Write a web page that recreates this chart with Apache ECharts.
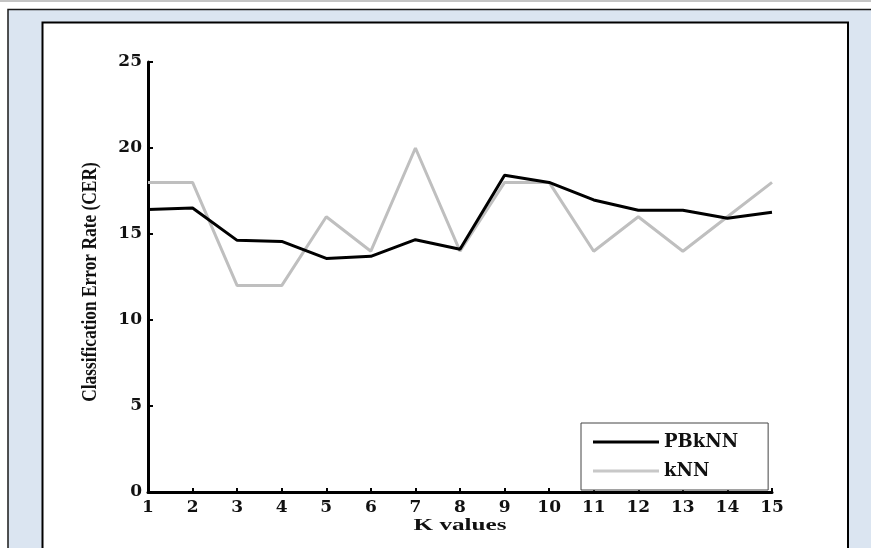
<!DOCTYPE html>
<html>
<head>
<meta charset="utf-8">
<script src="https://cdn.jsdelivr.net/npm/echarts@6/dist/echarts.min.js"></script>
<style>
  html, body { margin: 0; padding: 0; background: #ffffff; }
  #chart { width: 871px; height: 548px; }
</style>
</head>
<body>
<div id="chart"></div>
<script>
// K values on the horizontal axis
const kValues = ['1','2','3','4','5','6','7','8','9','10','11','12','13','14','15'];
// Classification error rate per K
const pbknnCER = [16.43, 16.51, 14.63, 14.57, 13.58, 13.70, 14.67, 14.11, 18.41, 18.0, 16.98, 16.38, 16.38, 15.91, 16.26];
const knnCER   = [18, 18, 12, 12, 16, 14, 20, 14, 18, 18, 14, 16, 14, 16, 18];
// Vertical axis range
const yMin = 0, yMax = 25, yStep = 5;

const tickFont = { fontFamily: '"DejaVu Serif"', fontWeight: 'bold', fontSize: 17, color: '#111' };

const chart = echarts.init(document.getElementById('chart'), null, { renderer: 'canvas' });

chart.setOption({
  animation: false,
  backgroundColor: '#ffffff',
  graphic: [
    // page rule and framed panel
    { type: 'rect', z: -20, silent: true, shape: { x: 0, y: 0, width: 871, height: 2 }, style: { fill: '#c4c4c4' } },
    { type: 'rect', z: -19, silent: true, shape: { x: 8, y: 9.5, width: 900, height: 600 },
      style: { fill: '#dbe5f1', stroke: '#1a1a1a', lineWidth: 1.5 } },
    { type: 'rect', z: -18, silent: true, shape: { x: 42.5, y: 22.5, width: 805.5, height: 600 },
      style: { fill: '#ffffff', stroke: '#000000', lineWidth: 2 } },
    // axis titles
    { type: 'text', z: 10, silent: true, x: 90, y: 282, rotation: Math.PI / 2, scaleX: 0.79,
      style: { text: 'Classification Error Rate (CER)', font: 'bold 22px "Liberation Serif"', fill: '#111',
               align: 'center', verticalAlign: 'middle', textAlign: 'center', textVerticalAlign: 'middle' } },
    { type: 'text', z: 10, silent: true, x: 460, y: 526, scaleX: 1.48,
      style: { text: 'K values', font: 'bold 17px "Liberation Serif"', fill: '#111',
               align: 'center', verticalAlign: 'middle', textAlign: 'center', textVerticalAlign: 'middle' } }
  ],
  grid: { left: 148, right: 99, top: 62, bottom: 56, containLabel: false },
  legend: {
    orient: 'vertical',
    left: 581,
    top: 423,
    icon: 'rect',
    itemWidth: 66,
    itemHeight: 3,
    itemGap: 11,
    padding: [10, 30, 10, 12],
    backgroundColor: '#ffffff',
    borderColor: '#444',
    borderWidth: 1,
    textStyle: { fontFamily: '"DejaVu Serif"', fontWeight: 'bold', fontSize: 18, color: '#111' },
    data: [
      'PBkNN',
      { name: 'kNN', lineStyle: { width: 1.5, type: 'dotted', color: '#c4c4c4' } }
    ]
  },
  xAxis: {
    type: 'category',
    data: kValues,
    boundaryGap: false,
    axisLine: { show: true, lineStyle: { color: '#000', width: 3 } },
    axisTick: { show: true, inside: true, length: 4, alignWithLabel: true, interval: 0, lineStyle: { color: '#000', width: 2 } },
    axisLabel: Object.assign({ margin: 7, interval: 0 }, tickFont),
    splitLine: { show: false }
  },
  yAxis: {
    type: 'value',
    min: yMin,
    max: yMax,
    interval: yStep,
    axisLine: { show: true, lineStyle: { color: '#000', width: 3 } },
    axisTick: { show: true, inside: true, length: 5, lineStyle: { color: '#000', width: 2 } },
    axisLabel: Object.assign({ margin: 6 }, tickFont),
    splitLine: { show: false }
  },
  series: [
    {
      name: 'kNN',
      type: 'line',
      data: knnCER,
      symbol: 'none',
      z: 2,
      lineStyle: { color: '#bfbfbf', width: 3 },
      itemStyle: { color: '#c8c8c8' }
    },
    {
      name: 'PBkNN',
      type: 'line',
      data: pbknnCER,
      symbol: 'none',
      z: 3,
      lineStyle: { color: '#000000', width: 3 },
      itemStyle: { color: '#000000' }
    }
  ]
});
</script>
</body>
</html>
